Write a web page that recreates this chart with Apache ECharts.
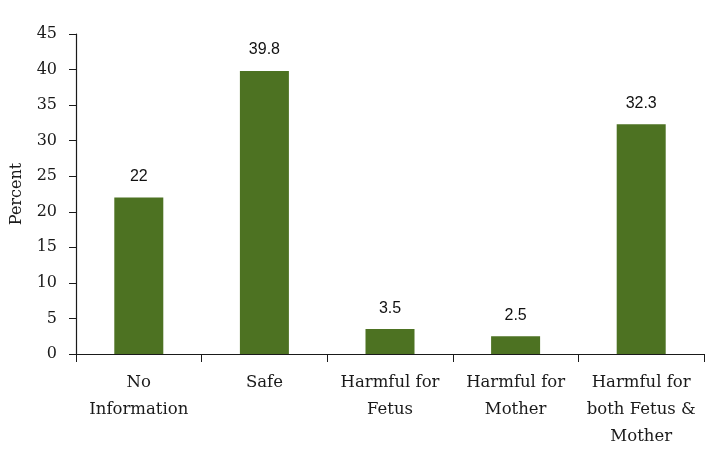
<!DOCTYPE html>
<html><head><meta charset="utf-8">
<script src="https://cdn.jsdelivr.net/npm/echarts@6/dist/echarts.min.js"></script>
<style>html,body{margin:0;padding:0;background:#fff}#c{width:715px;height:450px}</style>
</head><body><div id="c"></div>
<script>
const categories = ["No\nInformation", "Safe", "Harmful for\nFetus", "Harmful for\nMother", "Harmful for\nboth Fetus &\nMother"];
const values = [22, 39.8, 3.5, 2.5, 32.3];
const yTicks = {min: 0, max: 45, interval: 5};

const chart = echarts.init(document.getElementById('c'));
chart.setOption({
  animation: false,
  grid: {left: 76, right: 11, top: 34, bottom: 95},
  xAxis: {
    type: 'category', data: categories,
    axisLine: {lineStyle: {color: '#1a1a1a', width: 1.2}},
    axisTick: {show: true, length: 8, lineStyle: {color: '#1a1a1a'}},
    axisLabel: {color: '#1a1a1a', fontFamily: 'DejaVu Serif', fontSize: 16.5, lineHeight: 27, margin: 15, interval: 0}
  },
  yAxis: {
    type: 'value', min: yTicks.min, max: yTicks.max, interval: yTicks.interval,
    name: 'Percent', nameLocation: 'middle', nameGap: 51, nameRotate: 90,
    nameTextStyle: {color: '#1a1a1a', fontFamily: 'DejaVu Serif', fontSize: 16},
    axisLine: {show: true, lineStyle: {color: '#1a1a1a', width: 1.2}},
    axisTick: {show: true, length: 7, lineStyle: {color: '#1a1a1a'}},
    splitLine: {show: false},
    axisLabel: {color: '#1a1a1a', fontFamily: 'DejaVu Serif', fontSize: 16, margin: 19}
  },
  series: [{
    type: 'bar', data: values, barWidth: 49,
    itemStyle: {color: '#4d7222'},
    label: {show: true, position: 'top', distance: 13, color: '#111', fontFamily: 'Liberation Sans', fontSize: 16}
  }]
});
</script></body></html>
